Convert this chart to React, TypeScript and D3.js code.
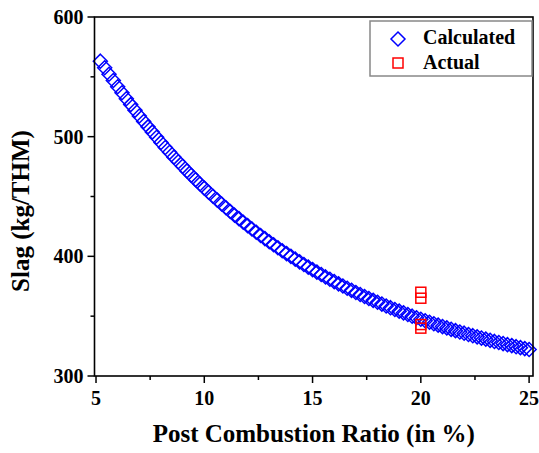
import React, { useEffect, useRef } from "react";
import * as d3 from "d3";

const calcX = [
  5.2, 5.4, 5.6, 5.8, 6.0, 6.2, 6.4, 6.6, 6.8, 7.0,
  7.2, 7.4, 7.6, 7.8, 8.0, 8.2, 8.4, 8.6, 8.8, 9.0,
  9.2, 9.4, 9.6, 9.8, 10.0, 10.2, 10.4, 10.6, 10.8, 11.0,
  11.2, 11.4, 11.6, 11.8, 12.0, 12.2, 12.4, 12.6, 12.8, 13.0,
  13.2, 13.4, 13.6, 13.8, 14.0, 14.2, 14.4, 14.6, 14.8, 15.0,
  15.2, 15.4, 15.6, 15.8, 16.0, 16.2, 16.4, 16.6, 16.8, 17.0,
  17.2, 17.4, 17.6, 17.8, 18.0, 18.2, 18.4, 18.6, 18.8, 19.0,
  19.2, 19.4, 19.6, 19.8, 20.0, 20.2, 20.4, 20.6, 20.8, 21.0,
  21.2, 21.4, 21.6, 21.8, 22.0, 22.2, 22.4, 22.6, 22.8, 23.0,
  23.2, 23.4, 23.6, 23.8, 24.0, 24.2, 24.4, 24.6, 24.8, 25.0,
];
const calcY = [
  563.1, 557.6, 552.2, 546.9, 541.7, 536.7, 531.7, 526.8, 522.0, 517.3,
  512.7, 508.2, 503.8, 499.5, 495.2, 491.0, 486.9, 482.9, 479.0, 475.2,
  471.4, 467.7, 464.1, 460.5, 457.0, 453.6, 450.2, 447.0, 443.7, 440.6,
  437.5, 434.4, 431.5, 428.5, 425.7, 422.9, 420.1, 417.4, 414.8, 412.2,
  409.7, 407.2, 404.7, 402.3, 400.0, 397.7, 395.4, 393.2, 391.0, 388.9,
  386.8, 384.8, 382.8, 380.8, 378.9, 377.0, 375.2, 373.3, 371.6, 369.8,
  368.1, 366.4, 364.8, 363.2, 361.6, 360.1, 358.5, 357.1, 355.6, 354.2,
  352.8, 351.4, 350.0, 348.7, 347.4, 346.2, 344.9, 343.7, 342.5, 341.3,
  340.2, 339.0, 337.9, 336.8, 335.8, 334.7, 333.7, 332.7, 331.7, 330.8,
  329.8, 328.9, 328.0, 327.1, 326.2, 325.4, 324.5, 323.7, 322.9, 322.1,
];
const actualX = [20, 20, 20, 20];
const actualY = [370, 365, 343, 340];

const xTicks = [5, 10, 15, 20, 25];
const xMinor = [7.5, 12.5, 17.5, 22.5];
const yTicks = [300, 400, 500, 600];
const yMinor = [350, 450, 550];

const W = 539;
const H = 453;
const FONT = "'Liberation Serif', 'Times New Roman', serif";

export default function App() {
  const ref = useRef<SVGSVGElement>(null);

  useEffect(() => {
    document.body.style.margin = "0";
    const svg = d3.select(ref.current);
    svg.selectAll("*").remove();

    const x = d3.scaleLinear().domain([4.93, 25.18]).range([94.5, 533]);
    const y = d3.scaleLinear().domain([300, 600]).range([376, 17]);

    // Data: calculated diamonds
    const dSize = 7;
    const diamond = (cx: number, cy: number) =>
      `M${cx},${cy - dSize}L${cx + dSize},${cy}L${cx},${cy + dSize}L${cx - dSize},${cy}Z`;
    svg
      .append("g")
      .selectAll("path")
      .data(calcX.map((v, i) => [v, calcY[i]]))
      .join("path")
      .attr("d", (d) => diamond(x(d[0]), y(d[1])))
      .attr("fill", "none")
      .attr("stroke", "#0000ff")
      .attr("stroke-width", 1.5);

    // Actual squares
    const sq = 5;
    svg
      .append("g")
      .selectAll("rect")
      .data(actualX.map((v, i) => [v, actualY[i]]))
      .join("rect")
      .attr("x", (d) => x(d[0]) - sq)
      .attr("y", (d) => y(d[1]) - sq)
      .attr("width", sq * 2)
      .attr("height", sq * 2)
      .attr("fill", "none")
      .attr("stroke", "#ff0000")
      .attr("stroke-width", 1.5);

    // Frame
    const [x0, x1] = x.range();
    const [y0, y1] = y.range();
    svg
      .append("rect")
      .attr("x", x0)
      .attr("y", y1)
      .attr("width", x1 - x0)
      .attr("height", y0 - y1)
      .attr("fill", "none")
      .attr("stroke", "#000")
      .attr("stroke-width", 1.6);

    // X axis
    const gx = svg.append("g").attr("transform", `translate(0,${y0})`);
    gx.selectAll("line.maj")
      .data(xTicks)
      .join("line")
      .attr("x1", (d) => x(d))
      .attr("x2", (d) => x(d))
      .attr("y1", 0)
      .attr("y2", 7)
      .attr("stroke", "#000")
      .attr("stroke-width", 1.5);
    gx.selectAll("line.min")
      .data(xMinor)
      .join("line")
      .attr("x1", (d) => x(d))
      .attr("x2", (d) => x(d))
      .attr("y1", 0)
      .attr("y2", 4)
      .attr("stroke", "#000")
      .attr("stroke-width", 1.5);
    gx.selectAll("text")
      .data(xTicks)
      .join("text")
      .attr("x", (d) => x(d))
      .attr("y", 29)
      .attr("text-anchor", "middle")
      .attr("font-family", FONT)
      .attr("font-weight", "bold")
      .attr("font-size", 20)
      .text((d) => String(d));

    // Y axis
    const gy = svg.append("g").attr("transform", `translate(${x0},0)`);
    gy.selectAll("line.maj")
      .data(yTicks)
      .join("line")
      .attr("y1", (d) => y(d))
      .attr("y2", (d) => y(d))
      .attr("x1", 0)
      .attr("x2", -7)
      .attr("stroke", "#000")
      .attr("stroke-width", 1.5);
    gy.selectAll("line.min")
      .data(yMinor)
      .join("line")
      .attr("y1", (d) => y(d))
      .attr("y2", (d) => y(d))
      .attr("x1", 0)
      .attr("x2", -4)
      .attr("stroke", "#000")
      .attr("stroke-width", 1.5);
    gy.selectAll("text")
      .data(yTicks)
      .join("text")
      .attr("x", -11)
      .attr("y", (d) => y(d))
      .attr("dy", "0.35em")
      .attr("text-anchor", "end")
      .attr("font-family", FONT)
      .attr("font-weight", "bold")
      .attr("font-size", 20)
      .text((d) => String(d));

    // Axis titles
    svg
      .append("text")
      .attr("x", (x0 + x1) / 2)
      .attr("y", 442)
      .attr("text-anchor", "middle")
      .attr("font-family", FONT)
      .attr("font-weight", "bold")
      .attr("font-size", 25)
      .text("Post Combustion Ratio (in %)");
    svg
      .append("text")
      .attr("transform", `translate(29,211) rotate(-90)`)
      .attr("text-anchor", "middle")
      .attr("font-family", FONT)
      .attr("font-weight", "bold")
      .attr("font-size", 25)
      .text("Slag (kg/THM)");

    // Legend
    const lg = svg.append("g");
    lg.append("rect")
      .attr("x", 370)
      .attr("y", 21)
      .attr("width", 162)
      .attr("height", 55)
      .attr("fill", "#fff")
      .attr("stroke", "#888")
      .attr("stroke-width", 1.5);
    lg.append("path")
      .attr("d", diamond(398, 39))
      .attr("fill", "none")
      .attr("stroke", "#0000ff")
      .attr("stroke-width", 1.5);
    lg.append("rect")
      .attr("x", 398 - sq)
      .attr("y", 63 - sq)
      .attr("width", sq * 2)
      .attr("height", sq * 2)
      .attr("fill", "none")
      .attr("stroke", "#ff0000")
      .attr("stroke-width", 1.5);
    lg.append("text")
      .attr("x", 423)
      .attr("y", 44)
      .attr("font-family", FONT)
      .attr("font-weight", "bold")
      .attr("font-size", 20)
      .text("Calculated");
    lg.append("text")
      .attr("x", 423)
      .attr("y", 69)
      .attr("font-family", FONT)
      .attr("font-weight", "bold")
      .attr("font-size", 20)
      .text("Actual");
  }, []);

  return (
    <div style={{ position: "absolute", left: 0, top: 0 }}>
      <svg ref={ref} width={W} height={H} style={{ display: "block", background: "#fff" }} />
    </div>
  );
}
